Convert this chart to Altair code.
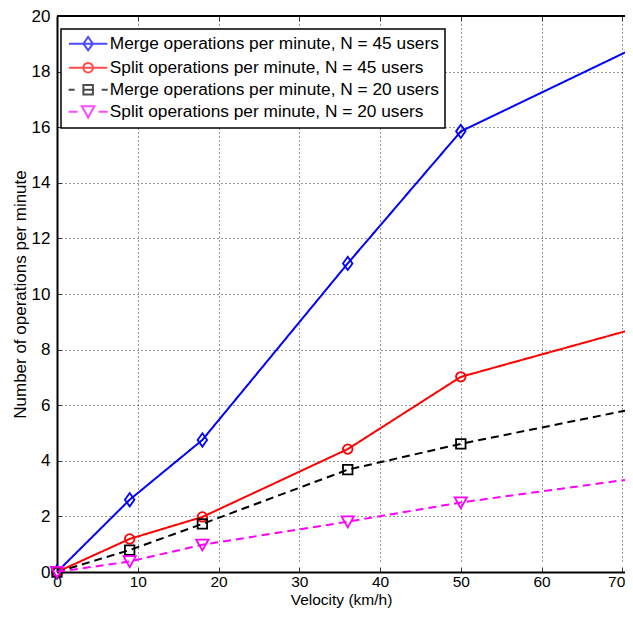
import altair as alt
import pandas as pd

# ---- data ----
velocity = [0, 9, 18, 36, 50, 72]
merge_45 = [0, 2.6, 4.75, 11.1, 15.85, 18.92]
split_45 = [0, 1.19, 1.98, 4.42, 7.02, 8.79]
merge_20 = [0, 0.79, 1.73, 3.68, 4.61, 5.9]
split_20 = [0, 0.38, 0.98, 1.81, 2.5, 3.38]

series_names = [
    "Merge operations per minute, N = 45 users",
    "Split operations per minute, N = 45 users",
    "Merge operations per minute, N = 20 users",
    "Split operations per minute, N = 20 users",
]
x_ticks = [0, 10, 20, 30, 40, 50, 60, 70]
y_ticks = [0, 2, 4, 6, 8, 10, 12, 14, 16, 18, 20]
y_top = [20]

rows = []
for name, vals in zip(series_names, [merge_45, split_45, merge_20, split_20]):
    for v, n in zip(velocity, vals):
        rows.append({"velocity": v, "ops": n, "series": name})
df = pd.DataFrame(rows)

# ---- styles ----
FONT = "Liberation Sans"
colors = ["#0000ff", "#ff0000", "#000000", "#ff00ff"]
dashes = [[1, 0], [1, 0], [8, 5], [8, 5]]
marker_shapes = [
    "M0,-1.4L1,0L0,1.4L-1,0Z",
    "circle",
    "square",
    "M-1.3,-1.1L1.3,-1.1L0,1.2Z",
]
legend_shapes = [
    "M-2.75,0L2.75,0M0,-0.95L0.68,0L0,0.95L-0.68,0Z",
    "M-2.75,0L2.75,0M0.68,0A0.68,0.68,0,1,1,-0.68,0A0.68,0.68,0,1,1,0.68,0Z",
    "M-2.79,0L-1.93,0M1.93,0L2.79,0M-0.68,-0.68L0.68,-0.68L0.68,0.68L-0.68,0.68ZM-0.68,0L0.68,0",
    "M-2.79,0L-1.5,0M1.5,0L2.79,0M-0.89,-0.78L0.89,-0.78L0,0.85Z",
]

W, H = 568, 556
PX_PER_UNIT = 8.076
x_scale = alt.Scale(domain=[0, W / PX_PER_UNIT], nice=False, zero=False)
y_scale = alt.Scale(domain=[0, 20], nice=False)
color_scale = alt.Scale(domain=series_names, range=colors)

# grid dash patterns: short inward ticks at both ends, dotted grid in between
k = (H - 15) // 4
x_grid_dash = [5] + [3, 1] * k + [H - 10 - 4 * k, 5, 0]
y_grid_dash = [5] + [3, 1] * 142 + [3]

last_tick = x_ticks[-1]
x_axis = alt.Axis(values=x_ticks, format="d", title="Velocity (km/h)",
                  grid=True, gridDash=x_grid_dash, gridColor="#333333", gridWidth=1,
                  ticks=False, tickSize=0, domainColor="black", domainWidth=2,
                  labelPadding=2.8, labelFontSize=15.5, titleFontSize=15.5,
                  labelAlign=alt.condition(alt.datum.value == last_tick, alt.value("right"), alt.value("center")),
                  labelOffset=alt.condition(alt.datum.value == last_tick, alt.value(2.5), alt.value(0)),
                  titleY=32.5, titleBaseline="alphabetic")
y_axis = alt.Axis(values=y_ticks, format="d", title="Number of operations per minute",
                  grid=True, gridDash=y_grid_dash, gridColor="#333333", gridWidth=1,
                  ticks=False, tickSize=0, domainColor="black", domainWidth=2,
                  labelPadding=7, labelFontSize=17, titleFontSize=17, titlePadding=2)

leg = alt.Legend(title=None, orient="none", legendX=4, legendY=13, padding=6,
                 symbolOffset=12.5, labelOffset=13, rowPadding=3,
                 labelFont=FONT, labelFontSize=17.3, labelColor="black", labelLimit=0,
                 symbolSize=196, symbolStrokeWidth=2, symbolFillColor="transparent",
                 strokeColor="black", fillColor="white")

# first layer: carries axes and legend, draws no marks
legend_layer = alt.Chart(df).transform_filter("false").mark_point(
    filled=False, size=196, strokeWidth=2).encode(
    x=alt.X("velocity:Q", scale=x_scale, axis=x_axis),
    y=alt.Y("ops:Q", scale=y_scale, axis=y_axis),
    color=alt.Color("series:N", scale=color_scale, legend=leg),
    shape=alt.Shape("series:N", scale=alt.Scale(domain=series_names, range=legend_shapes), legend=leg),
)

top_border = alt.Chart(pd.DataFrame({"ops": y_top})).mark_rule(
    color="black", strokeWidth=2).encode(y=alt.Y("ops:Q", scale=y_scale))

layers = [legend_layer, top_border]
for i, name in enumerate(series_names):
    sub = alt.Chart(df).transform_filter(alt.datum.series == name)
    line = sub.mark_line(color=colors[i], strokeWidth=2, strokeDash=dashes[i], clip=True).encode(
        x=alt.X("velocity:Q", scale=x_scale),
        y=alt.Y("ops:Q", scale=y_scale),
    )
    pts = sub.mark_point(shape=marker_shapes[i], color=colors[i], filled=False, size=90,
                         strokeWidth=1.8, opacity=1).encode(
        x=alt.X("velocity:Q", scale=x_scale),
        y=alt.Y("ops:Q", scale=y_scale),
    )
    layers += [line, pts]

chart = alt.layer(*layers).properties(
    width=W, height=H,
    autosize=alt.AutoSizeParams(type="none"),
    padding={"left": 49, "top": 8, "right": 0, "bottom": 36},
).configure_view(stroke=None).configure_axis(
    labelFont=FONT, labelColor="black",
    titleFont=FONT, titleFontWeight="normal", titleColor="black",
).configure_legend(strokeWidth=1.5, cornerRadius=0)

chart.save("out.html", embed_options={"renderer": "svg", "actions": False})
